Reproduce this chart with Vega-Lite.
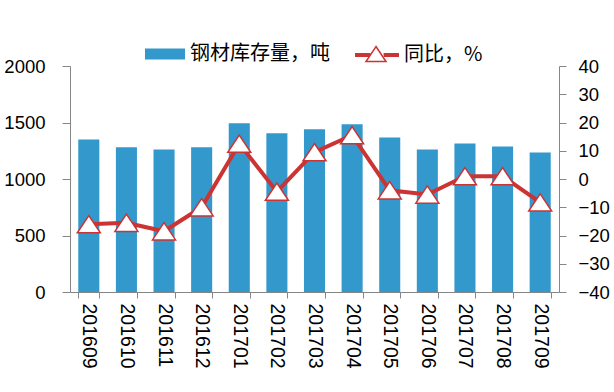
{
  "$schema": "https://vega.github.io/schema/vega-lite/v6.json",
  "width": 489,
  "height": 226,
  "autosize": {"type": "none"},
  "padding": {"left": 70, "top": 66, "right": 55, "bottom": 100},
  "background": "white",
  "config": {
    "view": {"stroke": null},
    "font": "Liberation Sans",
    "axis": {
      "domainColor": "#868686",
      "tickColor": "#868686",
      "labelColor": "#000000",
      "grid": false,
      "labelFont": "Liberation Sans",
      "labelFontSize": 18.5
    },
    "legend": {"labelFont": "Noto Sans CJK SC", "labelFontSize": 20, "labelColor": "#000000", "padding": 0}
  },
  "data": {
    "values": [
      {"month": "201609", "stock": 1350, "yoy": -16},
      {"month": "201610", "stock": 1280, "yoy": -15.5},
      {"month": "201611", "stock": 1262, "yoy": -18.5},
      {"month": "201612", "stock": 1280, "yoy": -10},
      {"month": "201701", "stock": 1493, "yoy": 12.5},
      {"month": "201702", "stock": 1405, "yoy": -4.5},
      {"month": "201703", "stock": 1440, "yoy": 9.5},
      {"month": "201704", "stock": 1485, "yoy": 15.5},
      {"month": "201705", "stock": 1368, "yoy": -4},
      {"month": "201706", "stock": 1262, "yoy": -5.5},
      {"month": "201707", "stock": 1315, "yoy": 1},
      {"month": "201708", "stock": 1288, "yoy": 1},
      {"month": "201709", "stock": 1235, "yoy": -8.3}
    ]
  },
  "encoding": {
    "x": {
      "field": "month",
      "type": "nominal",
      "sort": null,
      "scale": {"paddingInner": 0.44, "paddingOuter": 0.22},
      "axis": {
        "title": null,
        "labelAngle": 90,
        "labelAlign": "left",
        "labelBaseline": "middle",
        "tickBand": "extent",
        "tickSize": 6,
        "labelPadding": 5,
        "labelFontSize": 19.5
      }
    }
  },
  "layer": [
    {
      "mark": {"type": "bar", "color": "#3399cc"},
      "encoding": {
        "y": {
          "field": "stock",
          "type": "quantitative",
          "scale": {"domain": [0, 2000]},
          "axis": {"title": null, "format": "d", "values": [0, 500, 1000, 1500, 2000], "tickSize": 8, "labelPadding": 17}
        },
        "color": {
          "datum": "钢材库存量，吨",
          "scale": {"range": ["#3399cc"]},
          "legend": {
            "title": null,
            "orient": "none",
            "legendX": 75,
            "legendY": -32,
            "symbolType": "M-1,-0.275H1V0.275H-1Z",
            "symbolSize": 1600,
            "symbolStrokeWidth": 0,
            "labelOffset": 5
          }
        }
      }
    },
    {
      "encoding": {
        "y": {
          "field": "yoy",
          "type": "quantitative",
          "scale": {"domain": [-40, 40]},
          "axis": {"title": null, "orient": "right", "values": [-40, -30, -20, -10, 0, 10, 20, 30, 40], "tickSize": 7, "labelPadding": 12}
        }
      },
      "layer": [
        {
          "mark": {"type": "line", "strokeWidth": 4},
          "encoding": {
            "stroke": {
              "datum": "同比，%",
              "scale": {"range": ["#cc3333"]},
              "legend": {
                "title": null,
                "orient": "none",
                "legendX": 283,
                "legendY": -35,
                "symbolType": "M-1,0H-0.3M0.3,0H1",
                "symbolSize": 1936,
                "symbolStrokeWidth": 4,
                "labelOffset": 3
              }
            }
          }
        },
        {
          "mark": {"type": "point", "shape": "M0,-0.75L1,0.75L-1,0.75Z", "filled": true, "stroke": "#cc3333", "strokeWidth": 1.5, "size": 529, "opacity": 1},
          "encoding": {
            "fill": {
              "datum": "tri",
              "scale": {"range": ["#ffffff"]},
              "legend": {
                "title": null,
                "orient": "none",
                "legendX": 295,
                "legendY": -23,
                "symbolSize": 400,
                "symbolType": "M0,-0.75L1,0.75L-1,0.75Z",
                "symbolStrokeColor": "#cc3333",
                "symbolStrokeWidth": 1.5,
                "symbolOpacity": 1,
                "labelColor": "transparent",
                "labelFontSize": 1
              }
            }
          }
        }
      ]
    }
  ],
  "resolve": {"scale": {"y": "independent"}}
}
